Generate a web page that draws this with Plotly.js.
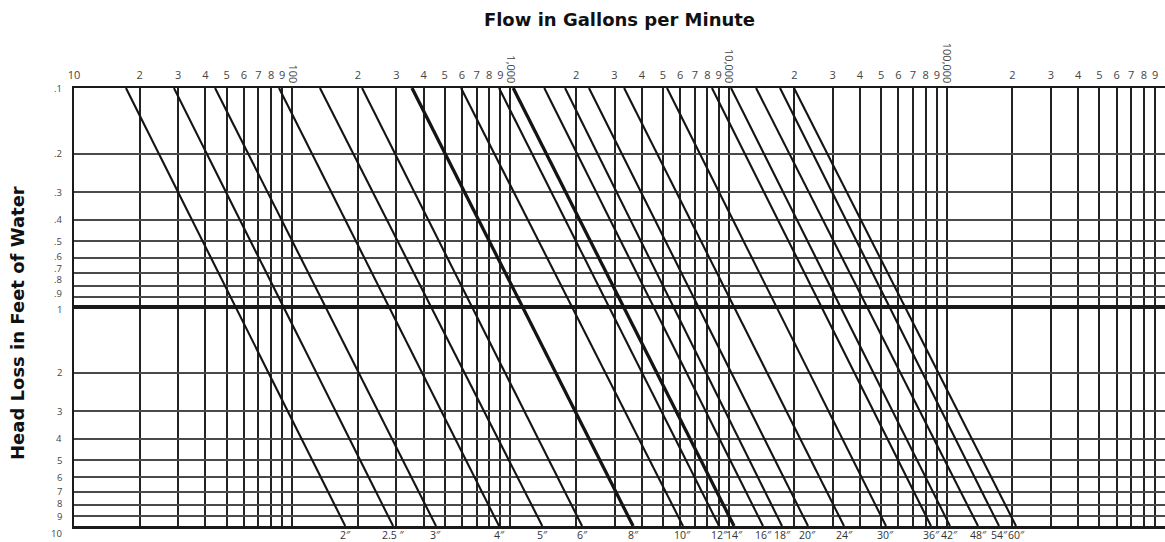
<!DOCTYPE html>
<html><head><meta charset="utf-8">
<script src="https://cdn.plot.ly/plotly-3.0.1.min.js"></script>
<style>html,body{margin:0;padding:0;background:#fff}#chart{width:1165px;height:542px}</style>
</head><body><div id="chart"></div>
<script>
// Pipe sizes and the flow (gpm) read where each line meets the top (0.1 ft) and bottom (10 ft) edges
const pipeSizes = ['2″', '2.5 ″', '3″', '4″', '5″', '6″', '8″', '10″', '12″', '14″', '16″', '18″', '20″', '24″', '30″', '36″', '42″', '48″', '54″', '60″'];
const flowAtTop = [17.3, 28.7, 44.3, 87, 134, 209, 354, 594, 887, 1030, 1430, 1780, 2290, 3320, 5220, 8390, 10260, 13360, 17200, 19940];
const flowAtBottom = [175, 290, 456, 887, 1400, 2130, 3650, 6180, 9040, 10590, 14380, 17570, 23110, 33800, 52640, 84660, 103400, 139000, 173500, 207600];
const headTop = 0.1;
const headBottom = 10;
const heavyPipes = ['8″', '14″'];

// Axis tick labels
const flowDecades = [10, 100, 1000, 10000, 100000, 1000000];
const flowDecadeLabels = ['10', '100', '1,000', '10,000', '100,000', '1,000,000'];
const flowMinorMultipliers = [2, 3, 4, 5, 6, 7, 8, 9];
const flowMinorLabels = ['2', '3', '4', '5', '6', '7', '8', '9'];
const headTicks = [0.1, 0.2, 0.3, 0.4, 0.5, 0.6, 0.7, 0.8, 0.9, 1, 2, 3, 4, 5, 6, 7, 8, 9, 10];
const headTickLabels = ['.1', '.2', '.3', '.4', '.5', '.6', '.7', '.8', '.9', '1', '2', '3', '4', '5', '6', '7', '8', '9', '10'];
const heavyHeadLines = [1];

const xTitle = 'Flow in Gallons per Minute';
const yTitle = 'Head Loss in Feet of Water';

// label nudges (pixels, style only) used where the printed labels are crowded
const headLabelNudge = {'.6': -2, '.7': -5, '.8': -6, '.9': -3, '1': 2, '7': -1, '8': -1, '9': 1, '10': 7};

// ---- build ticks for the horizontal-label axis
const xTickVals = [], xTickText = [];
for (let i = 0; i < flowDecades.length; i++) {
  xTickVals.push(flowDecades[i]);
  xTickText.push(i === 0 ? flowDecadeLabels[0] : '');
  if (i < flowDecades.length - 1) {
    flowMinorMultipliers.forEach((m, k) => {
      xTickVals.push(flowDecades[i] * m);
      xTickText.push(flowMinorLabels[k]);
    });
  }
}

const traces = [];
pipeSizes.forEach((p, i) => {
  const heavy = heavyPipes.includes(p);
  traces.push({
    type: 'scatter', mode: 'lines',
    x: [flowAtTop[i], flowAtBottom[i]],
    y: [headTop, headBottom],
    line: {color: '#141414', width: heavy ? 3.3 : 2.1},
    hoverinfo: 'skip', showlegend: false
  });
});
// empty trace to carry the overlay axes
traces.push({type: 'scatter', mode: 'lines', x: [], y: [], xaxis: 'x2', yaxis: 'y2', hoverinfo: 'skip', showlegend: false});

const tickFont = {family: 'Open Sans', size: 11, color: '#444'};
const headFont = {family: 'Open Sans', size: 9.5, color: '#444'};
const titleFont = {family: 'DejaVu Sans', size: 18, color: '#111', weight: 'bold'};
const xRange = [1, 6];
const yRange = [1, -1];

const annotations = [];
// head (y) labels
headTicks.forEach((h, i) => {
  const t = headTickLabels[i];
  annotations.push({
    xref: 'paper', x: 0, xanchor: 'right', xshift: -10,
    yref: 'y', y: Math.log10(h), yanchor: 'middle', yshift: -(headLabelNudge[t] || 0),
    text: t, showarrow: false, font: headFont
  });
});
// pipe size labels under the line ends
pipeSizes.forEach((p, i) => {
  annotations.push({
    xref: 'x', x: Math.log10(flowAtBottom[i]), xanchor: 'center',
    yref: 'y', y: Math.log10(headBottom), yanchor: 'top', yshift: 0,
    text: p, showarrow: false, font: {family: 'Open Sans', size: 10.5, color: '#333'}
  });
});
// y title
annotations.push({
  xref: 'paper', x: 0, xanchor: 'center', xshift: -57,
  yref: 'paper', y: (526 - 323) / 438, yanchor: 'middle',
  text: yTitle, textangle: -90, showarrow: false, font: titleFont
});

const layout = {
  width: 1165, height: 542,
  margin: {l: 74, r: 0, t: 88, b: 16},
  paper_bgcolor: '#fff', plot_bgcolor: '#fff',
  showlegend: false,
  title: {
    text: xTitle, font: titleFont,
    x: 0.5, xref: 'paper', xanchor: 'center',
    y: 1 - 20 / 542, yref: 'container', yanchor: 'middle'
  },
  xaxis: {
    type: 'log', range: xRange, side: 'top',
    tickmode: 'array', tickvals: xTickVals, ticktext: xTickText, tickangle: 0,
    tickfont: tickFont, ticks: '', ticklabelstandoff: 2,
    showgrid: true, gridcolor: '#222', gridwidth: 2,
    showline: true, linecolor: '#1a1a1a', linewidth: 2.5, mirror: true,
    zeroline: false, automargin: false, fixedrange: true
  },
  xaxis2: {
    type: 'log', range: xRange, side: 'top', overlaying: 'x',
    tickmode: 'array', tickvals: flowDecades.slice(1), ticktext: flowDecadeLabels.slice(1), tickangle: 90,
    tickfont: tickFont, ticks: '', ticklabelstandoff: 2,
    showgrid: false, showline: false, zeroline: false, automargin: false, fixedrange: true
  },
  yaxis: {
    type: 'log', range: yRange,
    tickmode: 'array', tickvals: headTicks, showticklabels: false, ticks: '',
    showgrid: true, gridcolor: '#4a4a4a', gridwidth: 2,
    showline: true, linecolor: '#1a1a1a', linewidth: 2.5,
    zeroline: false, automargin: false, fixedrange: true
  },
  yaxis2: {
    type: 'log', range: yRange, overlaying: 'y',
    tickmode: 'array', tickvals: heavyHeadLines, showticklabels: false, ticks: '',
    showgrid: true, gridcolor: '#1a1a1a', gridwidth: 3.2,
    showline: false, zeroline: false, automargin: false, fixedrange: true
  },
  annotations: annotations
};

Plotly.newPlot('chart', traces, layout, {displayModeBar: false, staticPlot: true});
</script>
</body></html>
